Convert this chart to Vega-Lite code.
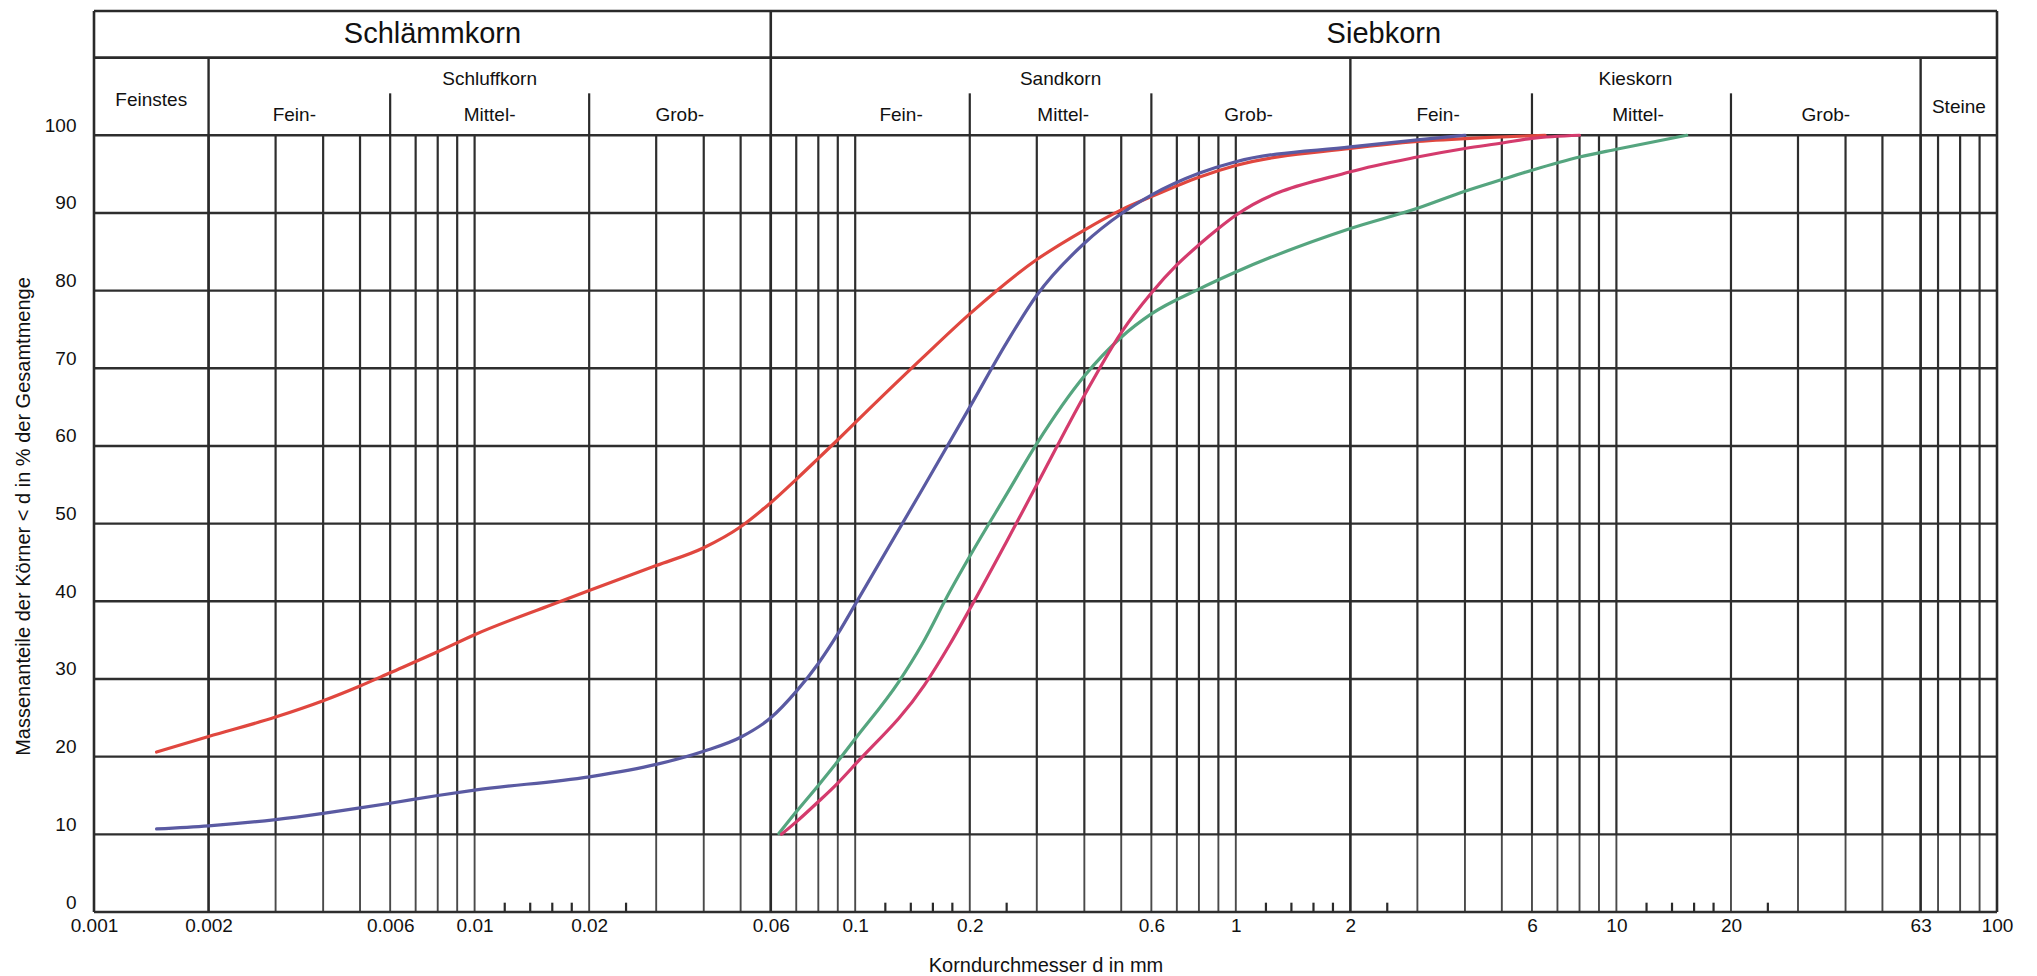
{
  "$schema": "https://vega.github.io/schema/vega-lite/v6.json",
  "width": 1903,
  "height": 901,
  "autosize": {"type": "none"},
  "padding": {"left": 94, "top": 11, "right": 40, "bottom": 64},
  "background": "white",
  "config": {
    "view": {"stroke": null},
    "font": "Liberation Sans",
    "axis": {"grid": false, "domain": false, "ticks": false, "labelColor": "#111", "titleColor": "#111", "labelFont": "Liberation Sans", "titleFont": "Liberation Sans", "titleFontWeight": "normal"}
  },
  "datasets": {
    "vgrid": [
      {"d": 0.002}, {"d": 0.003}, {"d": 0.004}, {"d": 0.005}, {"d": 0.006}, {"d": 0.007}, {"d": 0.008}, {"d": 0.009},
      {"d": 0.01}, {"d": 0.02}, {"d": 0.03}, {"d": 0.04}, {"d": 0.05}, {"d": 0.06}, {"d": 0.07}, {"d": 0.08}, {"d": 0.09},
      {"d": 0.1}, {"d": 0.2}, {"d": 0.3}, {"d": 0.4}, {"d": 0.5}, {"d": 0.6}, {"d": 0.7}, {"d": 0.8}, {"d": 0.9},
      {"d": 1}, {"d": 2}, {"d": 3}, {"d": 4}, {"d": 5}, {"d": 6}, {"d": 7}, {"d": 8}, {"d": 9},
      {"d": 10}, {"d": 20}, {"d": 30}, {"d": 40}, {"d": 50}, {"d": 63}, {"d": 70}, {"d": 80}, {"d": 90}
    ],
    "hgrid": [
      {"pct": 0}, {"pct": 10}, {"pct": 20}, {"pct": 30}, {"pct": 40}, {"pct": 50}, {"pct": 60}, {"pct": 70}, {"pct": 80}, {"pct": 90}, {"pct": 100}
    ],
    "groupBounds": [{"d": 0.002}, {"d": 2}, {"d": 63}],
    "fullBounds": [{"d": 0.001}, {"d": 0.06}, {"d": 100}],
    "subBounds": [{"d": 0.006}, {"d": 0.02}, {"d": 0.2}, {"d": 0.6}, {"d": 6}, {"d": 20}],
    "smallTicks": [
      {"d": 0.012}, {"d": 0.014}, {"d": 0.016}, {"d": 0.018}, {"d": 0.025},
      {"d": 0.12}, {"d": 0.14}, {"d": 0.16}, {"d": 0.18}, {"d": 0.25},
      {"d": 1.2}, {"d": 1.4}, {"d": 1.6}, {"d": 1.8}, {"d": 2.5},
      {"d": 12}, {"d": 14}, {"d": 16}, {"d": 18}, {"d": 25}
    ],
    "mainLabels": [
      {"label": "Schlämmkorn", "d": 0.00775},
      {"label": "Siebkorn", "d": 2.449}
    ],
    "groupLabels": [
      {"label": "Schluffkorn", "d": 0.01095},
      {"label": "Sandkorn", "d": 0.3464},
      {"label": "Kieskorn", "d": 11.22}
    ],
    "subLabels": [
      {"label": "Fein-", "d": 0.00336},
      {"label": "Mittel-", "d": 0.01095},
      {"label": "Grob-", "d": 0.0346},
      {"label": "Fein-", "d": 0.132},
      {"label": "Mittel-", "d": 0.352},
      {"label": "Grob-", "d": 1.08},
      {"label": "Fein-", "d": 3.4},
      {"label": "Mittel-", "d": 11.4},
      {"label": "Grob-", "d": 35.5}
    ],
    "curves": [
      {"probe": "rot", "d": 0.00146, "pct": 20.6},
      {"probe": "rot", "d": 0.002, "pct": 22.6},
      {"probe": "rot", "d": 0.003, "pct": 25.1},
      {"probe": "rot", "d": 0.004, "pct": 27.2},
      {"probe": "rot", "d": 0.005, "pct": 29.1},
      {"probe": "rot", "d": 0.006, "pct": 30.8},
      {"probe": "rot", "d": 0.008, "pct": 33.5},
      {"probe": "rot", "d": 0.01, "pct": 35.7},
      {"probe": "rot", "d": 0.016, "pct": 39.6},
      {"probe": "rot", "d": 0.02, "pct": 41.4},
      {"probe": "rot", "d": 0.03, "pct": 44.6},
      {"probe": "rot", "d": 0.04, "pct": 46.9},
      {"probe": "rot", "d": 0.05, "pct": 49.6},
      {"probe": "rot", "d": 0.06, "pct": 52.7},
      {"probe": "rot", "d": 0.07, "pct": 55.7},
      {"probe": "rot", "d": 0.08, "pct": 58.4},
      {"probe": "rot", "d": 0.09, "pct": 60.8},
      {"probe": "rot", "d": 0.1, "pct": 63.0},
      {"probe": "rot", "d": 0.15, "pct": 71.3},
      {"probe": "rot", "d": 0.2, "pct": 77.0},
      {"probe": "rot", "d": 0.3, "pct": 84.0},
      {"probe": "rot", "d": 0.4, "pct": 87.8},
      {"probe": "rot", "d": 0.5, "pct": 90.4},
      {"probe": "rot", "d": 0.6, "pct": 92.1},
      {"probe": "rot", "d": 0.8, "pct": 94.6},
      {"probe": "rot", "d": 1, "pct": 96.1},
      {"probe": "rot", "d": 2, "pct": 98.3},
      {"probe": "rot", "d": 3, "pct": 99.2},
      {"probe": "rot", "d": 4.5, "pct": 99.7},
      {"probe": "rot", "d": 6.5, "pct": 100},
      {"probe": "blau", "d": 0.00146, "pct": 10.7},
      {"probe": "blau", "d": 0.002, "pct": 11.1},
      {"probe": "blau", "d": 0.003, "pct": 11.9},
      {"probe": "blau", "d": 0.004, "pct": 12.7},
      {"probe": "blau", "d": 0.005, "pct": 13.4},
      {"probe": "blau", "d": 0.006, "pct": 14.0},
      {"probe": "blau", "d": 0.008, "pct": 15.0},
      {"probe": "blau", "d": 0.01, "pct": 15.7},
      {"probe": "blau", "d": 0.02, "pct": 17.4},
      {"probe": "blau", "d": 0.03, "pct": 19.0},
      {"probe": "blau", "d": 0.04, "pct": 20.7},
      {"probe": "blau", "d": 0.05, "pct": 22.5},
      {"probe": "blau", "d": 0.06, "pct": 25.0},
      {"probe": "blau", "d": 0.07, "pct": 28.4},
      {"probe": "blau", "d": 0.08, "pct": 32.0},
      {"probe": "blau", "d": 0.09, "pct": 35.8},
      {"probe": "blau", "d": 0.1, "pct": 39.6},
      {"probe": "blau", "d": 0.15, "pct": 54.4},
      {"probe": "blau", "d": 0.2, "pct": 65.0},
      {"probe": "blau", "d": 0.25, "pct": 73.3},
      {"probe": "blau", "d": 0.3, "pct": 79.4},
      {"probe": "blau", "d": 0.4, "pct": 86.1},
      {"probe": "blau", "d": 0.5, "pct": 89.9},
      {"probe": "blau", "d": 0.6, "pct": 92.3},
      {"probe": "blau", "d": 0.8, "pct": 95.1},
      {"probe": "blau", "d": 1, "pct": 96.6},
      {"probe": "blau", "d": 2, "pct": 98.5},
      {"probe": "blau", "d": 3, "pct": 99.4},
      {"probe": "blau", "d": 4, "pct": 100},
      {"probe": "gruen", "d": 0.063, "pct": 10.1},
      {"probe": "gruen", "d": 0.07, "pct": 12.9},
      {"probe": "gruen", "d": 0.08, "pct": 16.3},
      {"probe": "gruen", "d": 0.09, "pct": 19.4},
      {"probe": "gruen", "d": 0.1, "pct": 22.3},
      {"probe": "gruen", "d": 0.13, "pct": 29.6},
      {"probe": "gruen", "d": 0.15, "pct": 34.5},
      {"probe": "gruen", "d": 0.177, "pct": 41.2},
      {"probe": "gruen", "d": 0.2, "pct": 45.8},
      {"probe": "gruen", "d": 0.25, "pct": 53.8},
      {"probe": "gruen", "d": 0.3, "pct": 60.3},
      {"probe": "gruen", "d": 0.4, "pct": 69.0},
      {"probe": "gruen", "d": 0.5, "pct": 74.0},
      {"probe": "gruen", "d": 0.6, "pct": 77.0},
      {"probe": "gruen", "d": 0.8, "pct": 80.2},
      {"probe": "gruen", "d": 1, "pct": 82.4},
      {"probe": "gruen", "d": 2, "pct": 88.0},
      {"probe": "gruen", "d": 3, "pct": 90.6},
      {"probe": "gruen", "d": 4, "pct": 92.8},
      {"probe": "gruen", "d": 5, "pct": 94.3},
      {"probe": "gruen", "d": 6, "pct": 95.5},
      {"probe": "gruen", "d": 8, "pct": 97.2},
      {"probe": "gruen", "d": 10, "pct": 98.2},
      {"probe": "gruen", "d": 15.3, "pct": 100},
      {"probe": "pink", "d": 0.064, "pct": 10.0},
      {"probe": "pink", "d": 0.07, "pct": 11.6},
      {"probe": "pink", "d": 0.08, "pct": 14.2},
      {"probe": "pink", "d": 0.09, "pct": 16.6},
      {"probe": "pink", "d": 0.1, "pct": 19.0},
      {"probe": "pink", "d": 0.152, "pct": 29.2},
      {"probe": "pink", "d": 0.177, "pct": 34.4},
      {"probe": "pink", "d": 0.2, "pct": 39.0},
      {"probe": "pink", "d": 0.25, "pct": 47.7},
      {"probe": "pink", "d": 0.3, "pct": 55.0},
      {"probe": "pink", "d": 0.4, "pct": 66.5},
      {"probe": "pink", "d": 0.5, "pct": 74.6},
      {"probe": "pink", "d": 0.6, "pct": 79.7},
      {"probe": "pink", "d": 0.7, "pct": 83.3},
      {"probe": "pink", "d": 0.8, "pct": 85.9},
      {"probe": "pink", "d": 0.9, "pct": 88.0},
      {"probe": "pink", "d": 1, "pct": 89.7},
      {"probe": "pink", "d": 2, "pct": 95.3},
      {"probe": "pink", "d": 3, "pct": 97.2},
      {"probe": "pink", "d": 4, "pct": 98.3},
      {"probe": "pink", "d": 5, "pct": 99.0},
      {"probe": "pink", "d": 6, "pct": 99.6},
      {"probe": "pink", "d": 8, "pct": 100}
    ]
  },
  "layer": [
    {
      "data": {"name": "vgrid"},
      "mark": {"type": "rule", "color": "#2e2e2e", "strokeWidth": 2.2},
      "encoding": {
        "x": {"field": "d", "type": "quantitative",
          "scale": {"type": "log", "domain": [0.001, 100], "nice": false},
          "axis": {"values": [0.001, 0.002, 0.006, 0.01, 0.02, 0.06, 0.1, 0.2, 0.6, 1, 2, 6, 10, 20, 63, 100],
            "format": "~g", "labelFontSize": 19, "labelPadding": 4, "labelFlush": false, "labelOverlap": false,
            "title": "Korndurchmesser d in mm", "titleFontSize": 20, "titlePadding": 20}},
        "y": {"datum": 10, "type": "quantitative"},
        "y2": {"datum": 100}
      }
    },
    {
      "data": {"name": "vgrid"},
      "mark": {"type": "rule", "color": "#4a4a4a", "strokeWidth": 1.9},
      "encoding": {
        "x": {"field": "d", "type": "quantitative"},
        "y": {"datum": 0, "type": "quantitative"},
        "y2": {"datum": 10}
      }
    },
    {
      "data": {"name": "hgrid"},
      "mark": {"type": "rule", "color": "#2e2e2e", "strokeWidth": 2.4},
      "encoding": {
        "y": {"field": "pct", "type": "quantitative",
          "scale": {"domain": [0, 116], "nice": false, "zero": true},
          "axis": {"values": [0, 10, 20, 30, 40, 50, 60, 70, 80, 90, 100], "labelFontSize": 19, "labelPadding": 18,
            "labelBaseline": "bottom",
            "title": "Massenanteile der Körner < d in % der Gesamtmenge", "titleFontSize": 20,
            "titleX": -71, "titleY": 505, "titleAngle": 270, "titleAlign": "center", "titleBaseline": "middle"}},
        "x": {"datum": 0.001, "type": "quantitative"},
        "x2": {"datum": 100}
      }
    },
    {
      "data": {"name": "groupBounds"},
      "mark": {"type": "rule", "color": "#2a2a2a", "strokeWidth": 2.4},
      "encoding": {
        "x": {"field": "d", "type": "quantitative"},
        "y": {"datum": 0, "type": "quantitative"},
        "y2": {"datum": 110}
      }
    },
    {
      "data": {"name": "fullBounds"},
      "mark": {"type": "rule", "color": "#2a2a2a", "strokeWidth": 2.6},
      "encoding": {
        "x": {"field": "d", "type": "quantitative"},
        "y": {"datum": 0, "type": "quantitative"},
        "y2": {"datum": 116}
      }
    },
    {
      "data": {"name": "subBounds"},
      "mark": {"type": "rule", "color": "#2a2a2a", "strokeWidth": 2.2},
      "encoding": {
        "x": {"field": "d", "type": "quantitative"},
        "y": {"datum": 100, "type": "quantitative"},
        "y2": {"datum": 105.4}
      }
    },
    {
      "data": {"values": [{}]},
      "mark": {"type": "rule", "color": "#2a2a2a", "strokeWidth": 2.6},
      "encoding": {
        "x": {"datum": 0.001, "type": "quantitative"},
        "x2": {"datum": 100},
        "y": {"datum": 116, "type": "quantitative"}
      }
    },
    {
      "data": {"values": [{}]},
      "mark": {"type": "rule", "color": "#2a2a2a", "strokeWidth": 2.6},
      "encoding": {
        "x": {"datum": 0.001, "type": "quantitative"},
        "x2": {"datum": 100},
        "y": {"datum": 110, "type": "quantitative"}
      }
    },
    {
      "data": {"name": "smallTicks"},
      "mark": {"type": "rule", "color": "#2a2a2a", "strokeWidth": 2.2},
      "encoding": {
        "x": {"field": "d", "type": "quantitative"},
        "y": {"datum": 0, "type": "quantitative"},
        "y2": {"datum": 1.2}
      }
    },
    {
      "data": {"name": "curves"},
      "mark": {"type": "line", "strokeWidth": 3.2, "interpolate": "monotone", "strokeCap": "round"},
      "encoding": {
        "x": {"field": "d", "type": "quantitative"},
        "y": {"field": "pct", "type": "quantitative"},
        "color": {"field": "probe", "type": "nominal",
          "scale": {"domain": ["rot", "blau", "gruen", "pink"], "range": ["#e0473f", "#5a5aa2", "#55a57f", "#d43b6d"]},
          "legend": null}
      }
    },
    {
      "data": {"name": "mainLabels"},
      "mark": {"type": "text", "fontSize": 29, "color": "#111", "baseline": "middle", "align": "center"},
      "encoding": {
        "x": {"field": "d", "type": "quantitative"},
        "y": {"datum": 113, "type": "quantitative"},
        "text": {"field": "label"}
      }
    },
    {
      "data": {"name": "groupLabels"},
      "mark": {"type": "text", "fontSize": 19, "color": "#111", "baseline": "middle", "align": "center"},
      "encoding": {
        "x": {"field": "d", "type": "quantitative"},
        "y": {"datum": 107.3, "type": "quantitative"},
        "text": {"field": "label"}
      }
    },
    {
      "data": {"values": [{"label": "Feinstes", "d": 0.001414}]},
      "mark": {"type": "text", "fontSize": 19, "color": "#111", "baseline": "middle", "align": "center"},
      "encoding": {
        "x": {"field": "d", "type": "quantitative"},
        "y": {"datum": 104.6, "type": "quantitative"},
        "text": {"field": "label"}
      }
    },
    {
      "data": {"values": [{"label": "Steine", "d": 79.4}]},
      "mark": {"type": "text", "fontSize": 19, "color": "#111", "baseline": "middle", "align": "center"},
      "encoding": {
        "x": {"field": "d", "type": "quantitative"},
        "y": {"datum": 103.7, "type": "quantitative"},
        "text": {"field": "label"}
      }
    },
    {
      "data": {"name": "subLabels"},
      "mark": {"type": "text", "fontSize": 19, "color": "#111", "baseline": "middle", "align": "center"},
      "encoding": {
        "x": {"field": "d", "type": "quantitative"},
        "y": {"datum": 102.6, "type": "quantitative"},
        "text": {"field": "label"}
      }
    }
  ]
}
